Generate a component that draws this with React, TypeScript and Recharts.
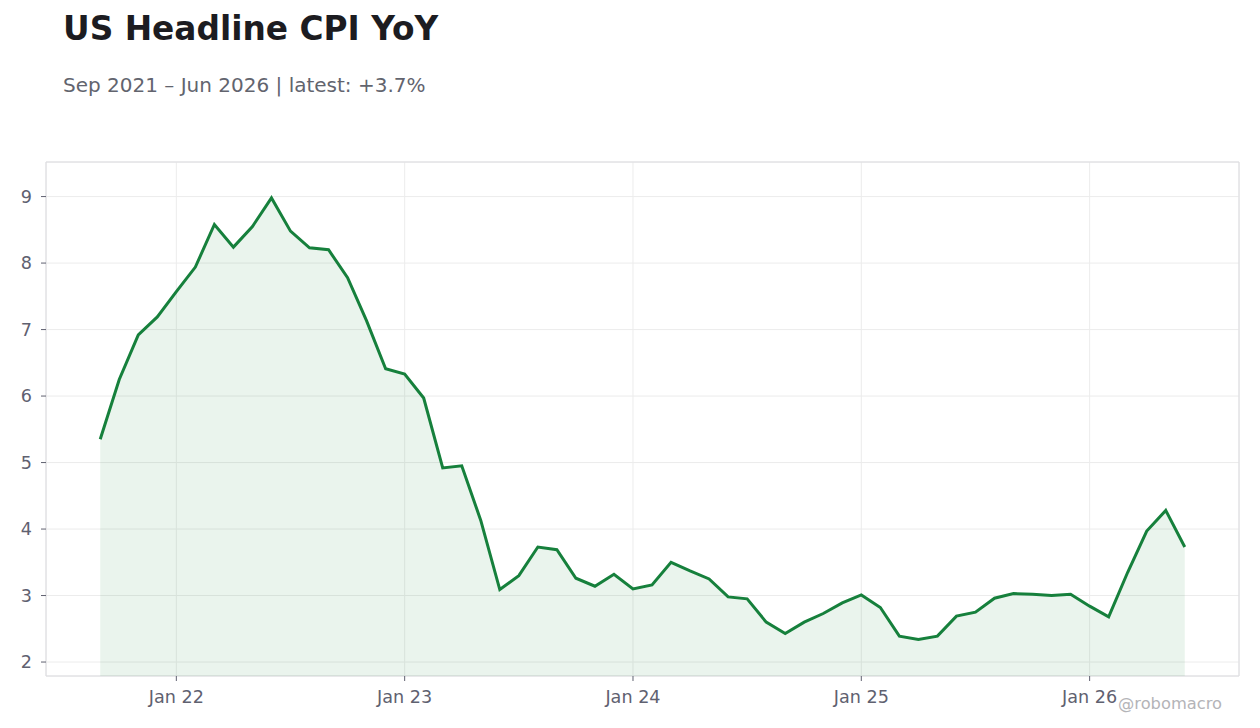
import { AreaChart, Area, XAxis, YAxis, CartesianGrid, ReferenceArea } from 'recharts';

// monthly observations, Sep 2021 .. Jun 2026
const months = [
  '2021-09', '2021-10', '2021-11', '2021-12',
  '2022-01', '2022-02', '2022-03', '2022-04', '2022-05', '2022-06',
  '2022-07', '2022-08', '2022-09', '2022-10', '2022-11', '2022-12',
  '2023-01', '2023-02', '2023-03', '2023-04', '2023-05', '2023-06',
  '2023-07', '2023-08', '2023-09', '2023-10', '2023-11', '2023-12',
  '2024-01', '2024-02', '2024-03', '2024-04', '2024-05', '2024-06',
  '2024-07', '2024-08', '2024-09', '2024-10', '2024-11', '2024-12',
  '2025-01', '2025-02', '2025-03', '2025-04', '2025-05', '2025-06',
  '2025-07', '2025-08', '2025-09', '2025-10', '2025-11', '2025-12',
  '2026-01', '2026-02', '2026-03', '2026-04', '2026-05', '2026-06',
];

const cpiYoY = [
  5.35, 6.25, 6.92, 7.19,
  7.57, 7.94, 8.58, 8.24, 8.55, 8.98,
  8.48, 8.23, 8.20, 7.78, 7.13, 6.41,
  6.33, 5.97, 4.92, 4.95, 4.13, 3.09,
  3.30, 3.73, 3.69, 3.26, 3.14, 3.32,
  3.10, 3.16, 3.50, 3.37, 3.25, 2.98,
  2.95, 2.60, 2.43, 2.60, 2.73, 2.89,
  3.01, 2.82, 2.39, 2.34, 2.39, 2.69,
  2.75, 2.96, 3.03, 3.02, 3.00, 3.02,
  2.84, 2.68, 3.35, 3.97, 4.28, 3.73,
];

const yTicks = [2, 3, 4, 5, 6, 7, 8, 9];
const xTickLabels = ['Jan 22', 'Jan 23', 'Jan 24', 'Jan 25', 'Jan 26'];

const data = months.map((m, i) => ({ idx: i, month: m, value: cpiYoY[i] }));
const xTicks = months.map((m, i) => (m.endsWith('-01') ? i : -1)).filter((i) => i >= 0);

const X_DOMAIN: [number, number] = [-2.85, months.length - 1 + 2.85];
const Y_DOMAIN: [number, number] = [1.79, 9.52];

const FONT = '"DejaVu Sans", sans-serif';
const TICK_COLOR = '#5f6170';
const GREEN = '#16803c';

export default function App() {
  const formatX = (v: number) => xTickLabels[xTicks.indexOf(v)] ?? '';

  return (
    <div
      style={{
        position: 'absolute',
        left: 0,
        top: 0,
        width: 1260,
        height: 728,
        background: '#fff',
        fontFamily: FONT,
      }}
    >
      <AreaChart
        width={1260}
        height={728}
        data={data}
        margin={{ top: 162, right: 21, left: 16, bottom: 22 }}
      >
        <CartesianGrid stroke="#ececec" />
        <XAxis
          dataKey="idx"
          type="number"
          domain={X_DOMAIN}
          allowDataOverflow
          ticks={xTicks}
          tickFormatter={formatX}
          height={30}
          axisLine={false}
          tickLine={{ stroke: TICK_COLOR }}
          tickSize={5}
          tickMargin={10}
          tick={{ fill: TICK_COLOR, fontSize: 17.6, fontFamily: FONT }}
        />
        <YAxis
          type="number"
          domain={Y_DOMAIN}
          allowDataOverflow
          ticks={yTicks}
          width={30}
          axisLine={false}
          tickLine={{ stroke: TICK_COLOR }}
          tickSize={5}
          tickMargin={9}
          tick={{ fill: TICK_COLOR, fontSize: 17.6, fontFamily: FONT }}
        />
        <ReferenceArea
          x1={X_DOMAIN[0]}
          x2={X_DOMAIN[1]}
          y1={Y_DOMAIN[0]}
          y2={Y_DOMAIN[1]}
          fill="none"
          stroke="#dcdce0"
          strokeWidth={1}
        />
        <Area
          type="linear"
          dataKey="value"
          stroke={GREEN}
          strokeWidth={3}
          fill={GREEN}
          fillOpacity={0.09}
          dot={false}
          activeDot={false}
          isAnimationActive={false}
        />
      </AreaChart>

      <div
        style={{
          position: 'absolute',
          left: 63,
          top: 13,
          fontSize: 32.8,
          lineHeight: 1,
          fontWeight: 'bold',
          color: '#1c1c21',
          whiteSpace: 'nowrap',
        }}
      >
        US Headline CPI YoY
      </div>
      <div
        style={{
          position: 'absolute',
          left: 63,
          top: 74.8,
          fontSize: 20,
          lineHeight: 1,
          color: '#62646e',
          whiteSpace: 'nowrap',
        }}
      >
        Sep 2021 – Jun 2026 | latest: +3.7%
      </div>
      <div
        style={{
          position: 'absolute',
          right: 38,
          top: 696,
          fontSize: 16.3,
          lineHeight: 1,
          color: '#b4b4b8',
          whiteSpace: 'nowrap',
        }}
      >
        @robomacro
      </div>
    </div>
  );
}
